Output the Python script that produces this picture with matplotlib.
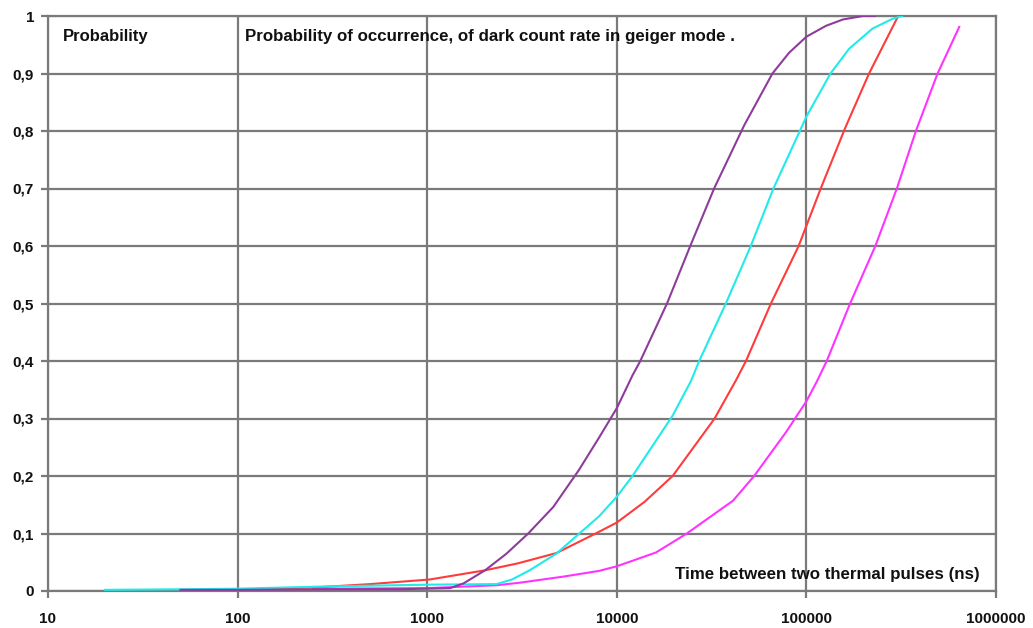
import matplotlib
matplotlib.use("Agg")
import matplotlib.pyplot as plt
from matplotlib.ticker import FixedLocator, FixedFormatter, NullLocator

# ---- data ----
purple_x = [50, 100, 300, 700, 1320, 1550, 2020, 2620, 3410, 4620, 6300, 8070, 10000, 12100,
            13300, 18400, 24400, 32600, 47000, 66200, 81000, 100000, 127000, 156000, 199000, 230000]
purple_y = [0.002, 0.002, 0.003, 0.003, 0.005, 0.013, 0.036, 0.065, 0.1, 0.146, 0.21, 0.267, 0.318, 0.375,
            0.4, 0.5, 0.6, 0.7, 0.81, 0.9, 0.936, 0.964, 0.983, 0.994, 1.0, 1.0]

cyan_x = [20, 50, 100, 300, 1000, 2320, 2800, 3470, 4800, 6350, 8070, 10000, 12100, 19700,
          24600, 27200, 37600, 50900, 67000, 100000, 134000, 168000, 223000, 284000, 320000]
cyan_y = [0.002, 0.003, 0.004, 0.008, 0.011, 0.012, 0.02, 0.036, 0.065, 0.1, 0.13, 0.164, 0.2, 0.305,
          0.365, 0.4, 0.5, 0.6, 0.7, 0.825, 0.9, 0.943, 0.978, 0.995, 1.0]

red_x = [130, 250, 500, 1030, 2020, 3000, 4800, 7740, 10000, 14000, 19700, 32800, 42600,
         48000, 65000, 91000, 119000, 160000, 214000, 305000]
red_y = [0.004, 0.006, 0.012, 0.02, 0.036, 0.048, 0.066, 0.1, 0.119, 0.155, 0.2, 0.3, 0.367,
         0.4, 0.5, 0.6, 0.7, 0.805, 0.9, 1.0]

magenta_x = [250, 1000, 2320, 3090, 5220, 8070, 10000, 16100, 23400, 41000, 53000, 78000,
             100000, 113000, 128000, 170000, 231000, 300000, 378000, 492000, 640000]
magenta_y = [0.004, 0.005, 0.01, 0.0145, 0.025, 0.035, 0.043, 0.067, 0.1, 0.157, 0.2, 0.276,
             0.33, 0.363, 0.4, 0.5, 0.6, 0.7, 0.8, 0.9, 0.981]

x_ticks = [10, 100, 1000, 10000, 100000, 1000000]
x_labels = ["10", "100", "1000", "10000", "100000", "1000000"]
y_ticks = [0, 0.1, 0.2, 0.3, 0.4, 0.5, 0.6, 0.7, 0.8, 0.9, 1.0]
y_labels = ["0", "0,1", "0,2", "0,3", "0,4", "0,5", "0,6", "0,7", "0,8", "0,9", "1"]

# ---- figure ----
plt.rcParams['font.family'] = ['Liberation Sans', 'DejaVu Sans']
fig = plt.figure(figsize=(10.33, 6.28), dpi=100)
ax = fig.add_axes([48 / 1033, 1 - 591 / 628, (996 - 48) / 1033, (591 - 16) / 628])

grid_c = '#7a7a7a'
ax.set_xscale('log')
ax.set_xlim(10, 1000000)
ax.set_ylim(0, 1)

ax.xaxis.set_major_locator(FixedLocator(x_ticks))
ax.xaxis.set_major_formatter(FixedFormatter(x_labels))
ax.xaxis.set_minor_locator(NullLocator())
ax.yaxis.set_major_locator(FixedLocator(y_ticks))
ax.yaxis.set_major_formatter(FixedFormatter(y_labels))

ax.grid(True, color=grid_c, linewidth=1.6, zorder=0)
for s in ax.spines.values():
    s.set_color(grid_c)
    s.set_linewidth(1.6)
ax.tick_params(axis='both', which='major', color=grid_c, width=1.6, length=5,
               labelsize=11, labelcolor='#111111')
ax.tick_params(axis='x', pad=10)
ax.tick_params(axis='y', pad=5)
for lab in ax.get_xticklabels() + ax.get_yticklabels():
    lab.set_fontweight('bold')

lw = 1.5
ax.plot(magenta_x, magenta_y, color='#ff33ff', lw=lw, zorder=3)
ax.plot(red_x, red_y, color='#ff3b3b', lw=lw, zorder=3)
ax.plot(cyan_x, cyan_y, color='#22eaea', lw=lw, zorder=3)
ax.plot(purple_x, purple_y, color='#8e3c9c', lw=lw, zorder=4)

ax.text(63 / 1033, 1 - 36 / 628, "Probability", transform=fig.transFigure,
        fontsize=12, fontweight='bold', va='center', ha='left', color='#111111')
ax.text(245 / 1033, 1 - 36 / 628,
        "Probability of occurrence, of dark count rate in geiger mode .",
        transform=fig.transFigure, fontsize=12.2, fontweight='bold', va='center',
        ha='left', color='#111111')
ax.text(980 / 1033, 1 - 574 / 628, "Time between two thermal pulses (ns)",
        transform=fig.transFigure, fontsize=12.2, fontweight='bold', va='center',
        ha='right', color='#111111')

fig.savefig("out.png", dpi=100, facecolor='white')
